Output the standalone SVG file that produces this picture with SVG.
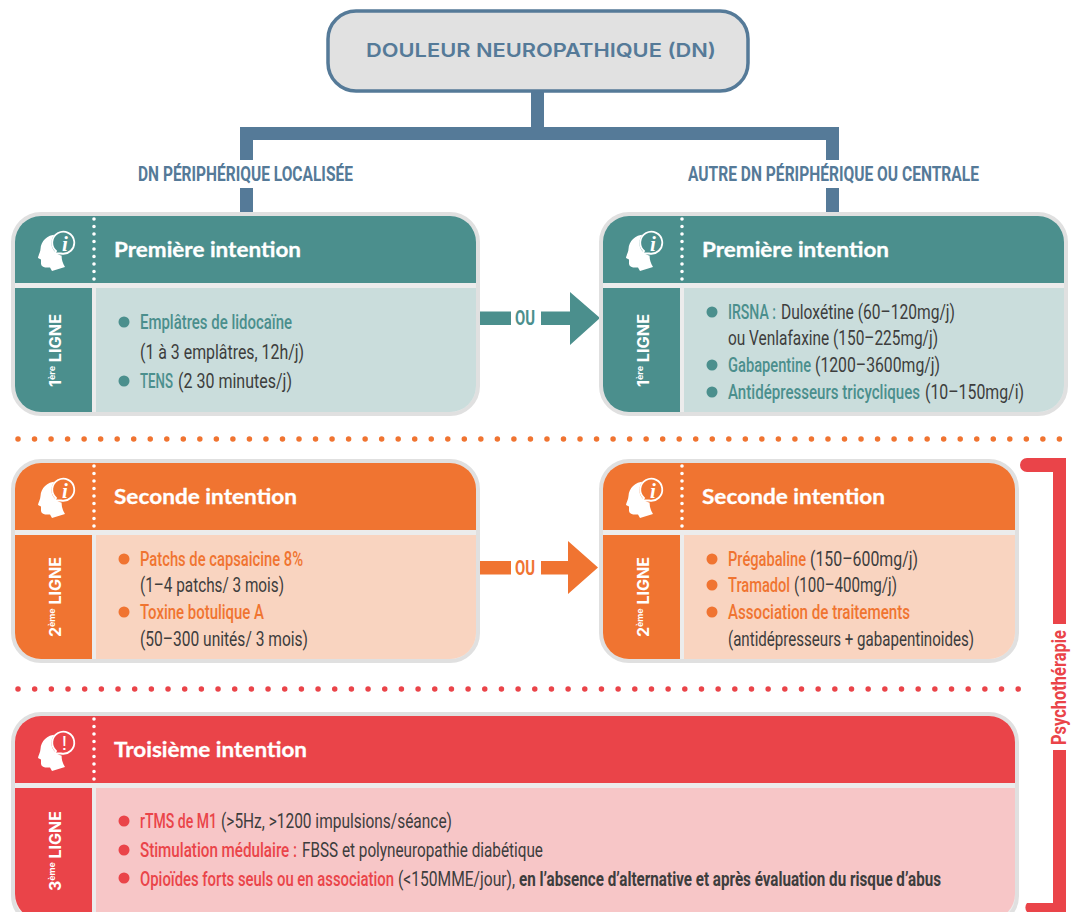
<svg xmlns="http://www.w3.org/2000/svg" width="1076" height="912" viewBox="0 0 1076 912">
<style>
text{font-family:"Roboto","Liberation Sans",sans-serif}
.b{font-size:20px;fill:#3d3d3d;font-weight:400}
.title{font-family:"Lato","Open Sans",sans-serif;font-size:21px;font-weight:700;fill:#fff;stroke:#fff;stroke-width:.3}
.lig{font-family:"Inter","Liberation Sans",sans-serif;font-size:15.5px;font-weight:700;fill:#fff}
.sup{font-size:8.5px}
.lab{font-size:21px;font-weight:700;fill:#557a98}
.ou{font-size:21px;font-weight:700}
.t{fill:#4b8f8d;font-weight:500}.o{fill:#f07431;font-weight:500}.r{fill:#ea4449;font-weight:500}
.k{font-weight:700}
.frame{fill:#ececec;stroke:#e0e0e0;stroke-width:4}
.dv{fill:none;stroke:#fff;stroke-width:3.6;stroke-linecap:round;stroke-dasharray:0 7.5}
.ic{font-family:"Liberation Serif",serif;font-size:21px;font-weight:700;fill:#fff;text-anchor:middle}
.bs{fill:none;stroke:#fff;stroke-width:1.8}
.conn{fill:#557a98}
</style>
<defs>
<path id="head" d="M56 234.500C47 235 41 241 40.500 249C40.500 252 38 256 38 258L41 259.500L41 264C41.500 267 45 268 50 267.500L52 271L65 267C62 262 61 258 62 253L64 240Z" fill="#fff"/>
<path id="hd" d="M15 283V242A26 26 0 0 1 41 216H450A26 26 0 0 1 476 242V283Z"/>
<path id="lf" d="M15 288H92V412H41A26 26 0 0 1 15 386Z"/>
<path id="bd" d="M96 288H476V386A26 26 0 0 1 450 412H96Z"/>
</defs>
<g id="connectors">
<path class="conn" d="M531 91H544V127H839V160H826V140H253V160H240V127H531Z"/>
<rect class="conn" x="240" y="188" width="13" height="26"/>
<rect class="conn" x="826" y="188" width="13" height="26"/>
<text class="lab" transform="translate(138 181) scale(.7 1)" textLength="307" lengthAdjust="spacingAndGlyphs">DN PÉRIPHÉRIQUE LOCALISÉE</text>
<text class="lab" transform="translate(688 181) scale(.7 1)" textLength="415.700" lengthAdjust="spacingAndGlyphs">AUTRE DN PÉRIPHÉRIQUE OU CENTRALE</text>
<path fill="#4b8f8d" d="M480 311.500H511V325H480ZM541 311.500H570V292L600 318L570 345V325H541Z"/>
<text class="ou" fill="#4b8f8d" x="515" y="325" textLength="20" lengthAdjust="spacingAndGlyphs">OU</text>
<path fill="#f07431" d="M480 561H511V574.500H480ZM541 561H568V541L598 567.500L568 594V574.500H541Z"/>
<text class="ou" fill="#f07431" x="515" y="575" textLength="20" lengthAdjust="spacingAndGlyphs">OU</text>
</g>
<g id="root">
<rect x="328" y="11" width="420" height="80" rx="28" fill="#e1e1e1" stroke="#557a98" stroke-width="3.500"/>
<text x="366" y="57" font-size="19" font-weight="600" style="font-family:Inter,sans-serif;fill:#557a98" textLength="350" lengthAdjust="spacingAndGlyphs">DOULEUR NEUROPATHIQUE (DN)</text>
</g>
<path id="sep1" d="M18 439H1063" fill="none" stroke="#f07431" stroke-width="5.500" stroke-linecap="round" stroke-dasharray="0 16.530"/>
<path id="sep2" d="M18 689H1021" fill="none" stroke="#ea4449" stroke-width="5.500" stroke-linecap="round" stroke-dasharray="0 16.670"/>

<g id="card-1a">
<rect class="frame" x="13" y="214" width="465" height="200" rx="28"/>
<use href="#hd" fill="#4b8f8d"/><use href="#lf" fill="#4b8f8d"/><use href="#bd" fill="#cadddc"/>
<path class="dv" d="M94 219V280"/>
<use href="#head"/><circle cx="64.500" cy="243" r="13" fill="#4b8f8d"/><path class="bs" d="M56 251A11 11 0 1 1 61 253.500H55.500L52 256Z"/><text class="ic" x="65" y="250.500" font-style="italic">i</text>
<text class="title" x="114" y="257" textLength="187" lengthAdjust="spacingAndGlyphs">Première intention</text>
<text class="lig" transform="translate(61 387) rotate(-90)" textLength="73" lengthAdjust="spacingAndGlyphs">1<tspan class="sup" dy="-6">ère</tspan><tspan dy="6"> LIGNE</tspan></text>
<circle cx="124" cy="322" r="5.500" fill="#4b8f8d"/><circle cx="124" cy="381" r="5.500" fill="#4b8f8d"/>
<text class="b t" transform="translate(140 328.500) scale(.72 1)" textLength="211.100" lengthAdjust="spacingAndGlyphs">Emplâtres de lidocaïne</text>
<text class="b" transform="translate(140 358.500) scale(.72 1)" textLength="227.800" lengthAdjust="spacingAndGlyphs">(1 à 3 emplâtres, 12h/j)</text>
<text class="b t" transform="translate(140 387.500) scale(.72 1)" textLength="45.800" lengthAdjust="spacingAndGlyphs">TENS</text>
<text class="b" transform="translate(178 387.500) scale(.72 1)" textLength="158.300" lengthAdjust="spacingAndGlyphs">(2 30 minutes/j)</text>
</g>

<g id="card-1b" transform="translate(588 0)">
<rect class="frame" x="13" y="214" width="465" height="200" rx="28"/>
<use href="#hd" fill="#4b8f8d"/><use href="#lf" fill="#4b8f8d"/><use href="#bd" fill="#cadddc"/>
<path class="dv" d="M94 219V280"/>
<use href="#head"/><circle cx="64.500" cy="243" r="13" fill="#4b8f8d"/><path class="bs" d="M56 251A11 11 0 1 1 61 253.500H55.500L52 256Z"/><text class="ic" x="65" y="250.500" font-style="italic">i</text>
<text class="title" x="114" y="257" textLength="187" lengthAdjust="spacingAndGlyphs">Première intention</text>
<text class="lig" transform="translate(61 387) rotate(-90)" textLength="73" lengthAdjust="spacingAndGlyphs">1<tspan class="sup" dy="-6">ère</tspan><tspan dy="6"> LIGNE</tspan></text>
<circle cx="124" cy="312" r="5.500" fill="#4b8f8d"/><circle cx="124" cy="365" r="5.500" fill="#4b8f8d"/><circle cx="124" cy="392" r="5.500" fill="#4b8f8d"/>
<text class="b t" transform="translate(140 318.500) scale(.72 1)" textLength="66.700" lengthAdjust="spacingAndGlyphs">IRSNA :</text>
<text class="b" transform="translate(193 318.500) scale(.72 1)" textLength="241.700" lengthAdjust="spacingAndGlyphs">Duloxétine (60–120mg/j)</text>
<text class="b" transform="translate(140 344.500) scale(.72 1)" textLength="291.700" lengthAdjust="spacingAndGlyphs">ou Venlafaxine (150–225mg/j)</text>
<text class="b t" transform="translate(140 371.500) scale(.72 1)" textLength="115.300" lengthAdjust="spacingAndGlyphs">Gabapentine</text>
<text class="b" transform="translate(227 371.500) scale(.72 1)" textLength="173.600" lengthAdjust="spacingAndGlyphs">(1200–3600mg/j)</text>
<text class="b t" transform="translate(140 398.500) scale(.72 1)" textLength="266.700" lengthAdjust="spacingAndGlyphs">Antidépresseurs tricycliques</text>
<text class="b" transform="translate(337 398.500) scale(.72 1)" textLength="137.500" lengthAdjust="spacingAndGlyphs">(10–150mg/i)</text>
</g>

<g id="card-2a" transform="translate(0 247)">
<rect class="frame" x="13" y="214" width="465" height="200" rx="28"/>
<use href="#hd" fill="#f07431"/><use href="#lf" fill="#f07431"/><use href="#bd" fill="#f9d4c0"/>
<path class="dv" d="M94 219V280"/>
<use href="#head"/><circle cx="64.500" cy="243" r="13" fill="#f07431"/><path class="bs" d="M56 251A11 11 0 1 1 61 253.500H55.500L52 256Z"/><text class="ic" x="65" y="250.500" font-style="italic">i</text>
<text class="title" x="114" y="257" textLength="183" lengthAdjust="spacingAndGlyphs">Seconde intention</text>
<text class="lig" transform="translate(61 390) rotate(-90)" textLength="80" lengthAdjust="spacingAndGlyphs">2<tspan class="sup" dy="-6">ème</tspan><tspan dy="6"> LIGNE</tspan></text>
<circle cx="124" cy="312" r="5.500" fill="#f07431"/><circle cx="124" cy="365" r="5.500" fill="#f07431"/>
<text class="b o" transform="translate(140 318.500) scale(.72 1)" textLength="226.400" lengthAdjust="spacingAndGlyphs">Patchs de capsaicine 8%</text>
<text class="b" transform="translate(140 344.500) scale(.72 1)" textLength="200" lengthAdjust="spacingAndGlyphs">(1–4 patchs/ 3 mois)</text>
<text class="b o" transform="translate(140 371.500) scale(.72 1)" textLength="172.200" lengthAdjust="spacingAndGlyphs">Toxine botulique A</text>
<text class="b" transform="translate(140 398.500) scale(.72 1)" textLength="233.300" lengthAdjust="spacingAndGlyphs">(50–300 unités/ 3 mois)</text>
</g>

<g id="card-2b" transform="translate(588 247)">
<path class="frame" d="M41 214H401A28 28 0 0 1 429 242V386A28 28 0 0 1 401 414H41A28 28 0 0 1 13 386V242A28 28 0 0 1 41 214Z"/>
<path fill="#f07431" d="M15 283V242A26 26 0 0 1 41 216H401A26 26 0 0 1 427 242V283Z"/><use href="#lf" fill="#f07431"/>
<path fill="#f9d4c0" d="M96 288H427V386A26 26 0 0 1 401 412H96Z"/>
<path class="dv" d="M94 219V280"/>
<use href="#head"/><circle cx="64.500" cy="243" r="13" fill="#f07431"/><path class="bs" d="M56 251A11 11 0 1 1 61 253.500H55.500L52 256Z"/><text class="ic" x="65" y="250.500" font-style="italic">i</text>
<text class="title" x="114" y="257" textLength="183" lengthAdjust="spacingAndGlyphs">Seconde intention</text>
<text class="lig" transform="translate(61 390) rotate(-90)" textLength="80" lengthAdjust="spacingAndGlyphs">2<tspan class="sup" dy="-6">ème</tspan><tspan dy="6"> LIGNE</tspan></text>
<circle cx="124" cy="312" r="5.500" fill="#f07431"/><circle cx="124" cy="338" r="5.500" fill="#f07431"/><circle cx="124" cy="365" r="5.500" fill="#f07431"/>
<text class="b o" transform="translate(140 318.500) scale(.72 1)" textLength="108.300" lengthAdjust="spacingAndGlyphs">Prégabaline</text>
<text class="b" transform="translate(222 318.500) scale(.72 1)" textLength="150" lengthAdjust="spacingAndGlyphs">(150–600mg/j)</text>
<text class="b o" transform="translate(140 344.500) scale(.72 1)" textLength="86.100" lengthAdjust="spacingAndGlyphs">Tramadol</text>
<text class="b" transform="translate(206 344.500) scale(.72 1)" textLength="143" lengthAdjust="spacingAndGlyphs">(100–400mg/j)</text>
<text class="b o" transform="translate(140 371.500) scale(.72 1)" textLength="252.800" lengthAdjust="spacingAndGlyphs">Association de traitements</text>
<text class="b" transform="translate(140 398.500) scale(.72 1)" textLength="341.700" lengthAdjust="spacingAndGlyphs">(antidépresseurs + gabapentinoides)</text>
</g>

<g id="card-3" transform="translate(0 500)">
<rect class="frame" x="13" y="214" width="1004" height="210" rx="28"/>
<path fill="#ea4449" d="M15 283V242A26 26 0 0 1 41 216H989A26 26 0 0 1 1015 242V283Z"/>
<path fill="#ea4449" d="M15 288H92V420H41A26 26 0 0 1 15 394Z"/>
<path fill="#f7c6c7" d="M96 288H1015V394A26 26 0 0 1 989 420H96Z"/>
<path class="dv" d="M94 219V280"/>
<use href="#head"/><circle cx="64.500" cy="243" r="13" fill="#ea4449"/><path class="bs" d="M56 251A11 11 0 1 1 61 253.500H55.500L52 256Z"/><text class="ic" x="64.500" y="250" style="font-family:'Liberation Sans',sans-serif;font-weight:400">!</text>
<text class="title" x="114" y="257" textLength="193" lengthAdjust="spacingAndGlyphs">Troisième intention</text>
<text class="lig" transform="translate(61 391) rotate(-90)" textLength="80" lengthAdjust="spacingAndGlyphs">3<tspan class="sup" dy="-6">ème</tspan><tspan dy="6"> LIGNE</tspan></text>
<circle cx="124" cy="321" r="5.500" fill="#ea4449"/><circle cx="124" cy="350" r="5.500" fill="#ea4449"/><circle cx="124" cy="378" r="5.500" fill="#ea4449"/>
<text class="b r" transform="translate(140 327.500) scale(.72 1)" textLength="106.900" lengthAdjust="spacingAndGlyphs">rTMS de M1</text>
<text class="b" transform="translate(221 327.500) scale(.72 1)" textLength="320.800" lengthAdjust="spacingAndGlyphs">(&gt;5Hz, &gt;1200 impulsions/séance)</text>
<text class="b r" transform="translate(140 356.500) scale(.72 1)" textLength="218.100" lengthAdjust="spacingAndGlyphs">Stimulation médulaire :</text>
<text class="b" transform="translate(302 356.500) scale(.72 1)" textLength="334.700" lengthAdjust="spacingAndGlyphs">FBSS et polyneuropathie diabétique</text>
<text class="b r" transform="translate(140 385.500) scale(.72 1)" textLength="352.800" lengthAdjust="spacingAndGlyphs">Opioïdes forts seuls ou en association</text>
<text class="b" transform="translate(398 385.500) scale(.72 1)" textLength="162.500" lengthAdjust="spacingAndGlyphs">(&lt;150MME/jour),</text>
<text class="b k" transform="translate(519 385.500) scale(.72 1)" textLength="586.100" lengthAdjust="spacingAndGlyphs">en l’absence d’alternative et après évaluation du risque d’abus</text>
</g>

<g id="psychotherapie">
<path fill="#ea4449" d="M1066 458V624H1053V472H1027A7 7 0 0 1 1027 458Z"/>
<path fill="#ea4449" d="M1066 750V912H1027A7 7 0 0 1 1027 903H1053V750Z"/>
<text transform="translate(1066 745) rotate(-90)" font-size="20" font-weight="700" fill="#ea4449" textLength="115" lengthAdjust="spacingAndGlyphs">Psychothérapie</text>
</g>
</svg>
